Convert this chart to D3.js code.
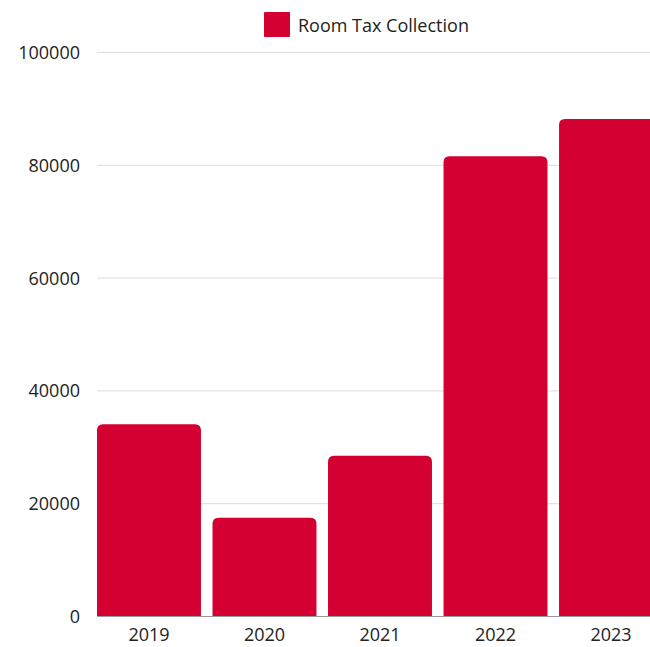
<!DOCTYPE html>
<html>
<head>
<meta charset="utf-8">
<script src="https://cdn.jsdelivr.net/npm/d3@7"></script>
<style>
  body { margin: 0; background: #fff; }
  svg { display: block; font-family: "Open Sans", "Lato", sans-serif; }
</style>
</head>
<body>
<div id="chart"></div>
<script>
// data
var years = ["2019", "2020", "2021", "2022", "2023"];
var roomTax = [34000, 17400, 28400, 81500, 88100];
var yTicks = [0, 20000, 40000, 60000, 80000, 100000];
var seriesName = "Room Tax Collection";

var w = 650, h = 647;
var barColor = "#d40032";

var svg = d3.select("#chart").append("svg")
    .attr("width", w)
    .attr("height", h);

// plot area. right side runs past the window so the last bar gets cut off
var x = d3.scaleBand().domain(years).range([97, 663]).paddingInner(0.1).paddingOuter(0);
var y = d3.scaleLinear().domain([0, 100000]).range([616, 52]);

// gridlines
svg.append("g")
    .selectAll("line")
    .data(yTicks.filter(d => d > 0))
    .enter()
    .append("line")
    .attr("x1", 97)
    .attr("x2", w)
    .attr("y1", d => y(d) + 0.5)
    .attr("y2", d => y(d) + 0.5)
    .style("stroke", "#dcdcdc")
    .style("stroke-width", 1);

// y labels
svg.append("g")
    .selectAll("text")
    .data(yTicks)
    .enter()
    .append("text")
    .attr("x", 80)
    .attr("y", d => y(d) + 7)
    .attr("text-anchor", "end")
    .style("font-size", "18px")
    .style("fill", "#222")
    .text(d => d);

// bars with rounded tops only
var r = 6;
function barPath(d, i) {
    var x0 = x(years[i]), x1 = x0 + x.bandwidth();
    var yt = y(d), yb = y(0);
    return "M" + x0 + "," + yb +
        "V" + (yt + r) +
        "Q" + x0 + "," + yt + " " + (x0 + r) + "," + yt +
        "H" + (x1 - r) +
        "Q" + x1 + "," + yt + " " + x1 + "," + (yt + r) +
        "V" + yb + "Z";
}

svg.append("g")
    .selectAll("path")
    .data(roomTax)
    .enter()
    .append("path")
    .attr("d", barPath)
    .style("fill", barColor);

// baseline
svg.append("line")
    .attr("x1", 97)
    .attr("x2", w)
    .attr("y1", y(0) + 0.5)
    .attr("y2", y(0) + 0.5)
    .style("stroke", "#999")
    .style("stroke-width", 1);

// x labels. kept a touch high so the descent box stays inside the window
svg.append("g")
    .selectAll("text")
    .data(years)
    .enter()
    .append("text")
    .attr("x", d => x(d) + x.bandwidth() / 2)
    .attr("y", 641)
    .attr("text-anchor", "middle")
    .style("font-size", "18px")
    .style("fill", "#222")
    .text(d => d);

// legend
var legend = svg.append("g").attr("transform", "translate(264,12)");
legend.append("rect")
    .attr("width", 26)
    .attr("height", 25)
    .attr("rx", 1)
    .style("fill", barColor);
legend.append("text")
    .attr("x", 34)
    .attr("y", 20)
    .style("font-size", "18px")
    .style("fill", "#222")
    .text(seriesName);
</script>
</body>
</html>
